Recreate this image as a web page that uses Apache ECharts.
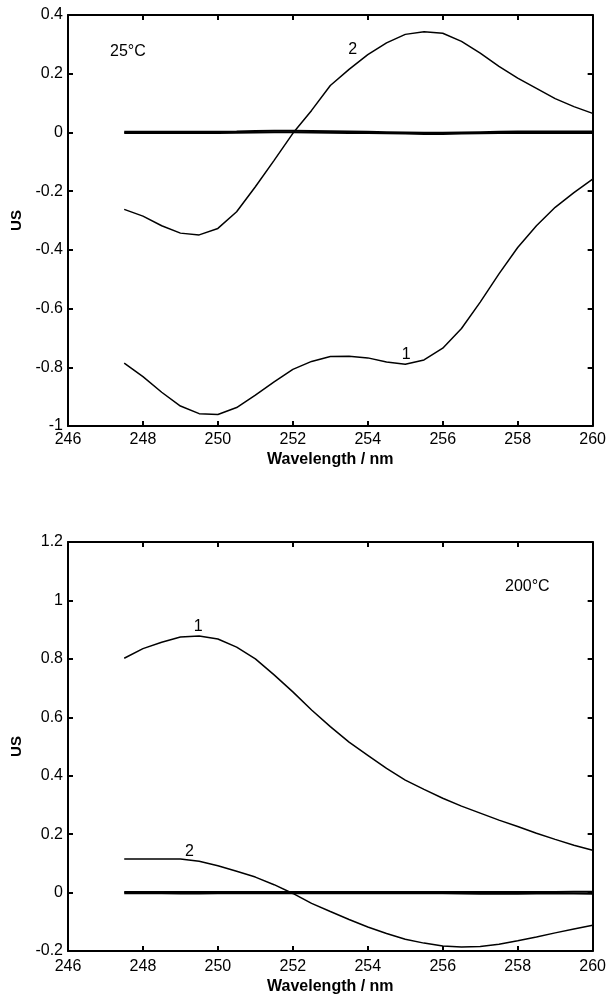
<!DOCTYPE html>
<html>
<head>
<meta charset="utf-8">
<script src="https://cdn.jsdelivr.net/npm/echarts@6/dist/echarts.min.js"></script>
<style>
  html, body { margin: 0; padding: 0; background: #fff; }
  #chart { width: 609px; height: 996px; }
</style>
</head>
<body>
<div id="chart"></div>
<script>
// wavelengths (nm), shared by every curve
const wavelength = [247.5, 248, 248.5, 249, 249.5, 250, 250.5, 251, 251.5, 252, 252.5, 253, 253.5,
                    254, 254.5, 255, 255.5, 256, 256.5, 257, 257.5, 258, 258.5, 259, 259.5, 260];

// 25°C panel
const top1 = [-0.786, -0.832, -0.885, -0.932, -0.958, -0.961, -0.937, -0.895, -0.850, -0.807, -0.780, -0.763, -0.762,
              -0.768, -0.782, -0.790, -0.775, -0.735, -0.668, -0.578, -0.482, -0.392, -0.318, -0.255, -0.205, -0.159];
const top2 = [-0.262, -0.285, -0.318, -0.343, -0.349, -0.327, -0.270, -0.185, -0.095, -0.003, 0.075, 0.160, 0.215,
              0.265, 0.305, 0.334, 0.343, 0.338, 0.310, 0.270, 0.225, 0.185, 0.150, 0.115, 0.088, 0.065];
const top3 = [0.002, 0.002, 0.002, 0.002, 0.002, 0.002, 0.003, 0.005, 0.006, 0.006, 0.005, 0.004, 0.003,
              0.002, 0.001, 0.000, -0.001, -0.001, 0.000, 0.001, 0.002, 0.003, 0.003, 0.003, 0.003, 0.003];
const top4 = [-0.002, -0.002, -0.002, -0.002, -0.002, -0.002, -0.001, 0.000, 0.001, 0.001, 0.000, -0.001, -0.002,
              -0.002, -0.003, -0.004, -0.005, -0.005, -0.004, -0.003, -0.002, -0.002, -0.002, -0.002, -0.002, -0.002];

// 200°C panel
const bot1 = [0.802, 0.835, 0.857, 0.875, 0.878, 0.868, 0.840, 0.800, 0.745, 0.687, 0.625, 0.568, 0.515,
              0.470, 0.425, 0.385, 0.353, 0.323, 0.296, 0.272, 0.248, 0.226, 0.203, 0.182, 0.162, 0.145];
const bot2 = [0.115, 0.115, 0.115, 0.115, 0.107, 0.092, 0.073, 0.053, 0.027, -0.003, -0.037, -0.065, -0.092,
              -0.118, -0.140, -0.160, -0.173, -0.183, -0.186, -0.185, -0.177, -0.165, -0.152, -0.138, -0.125, -0.112];
const bot3 = [0.002, 0.002, 0.002, 0.002, 0.002, 0.002, 0.002, 0.002, 0.002, 0.002, 0.002, 0.002, 0.002,
              0.002, 0.002, 0.002, 0.002, 0.002, 0.002, 0.002, 0.002, 0.002, 0.002, 0.002, 0.003, 0.003];
const bot4 = [-0.002, -0.002, -0.002, -0.003, -0.003, -0.002, -0.002, -0.002, -0.002, -0.002, -0.002, -0.002, -0.002,
              -0.002, -0.002, -0.002, -0.002, -0.002, -0.003, -0.004, -0.004, -0.004, -0.003, -0.002, -0.003, -0.004];

const xTicks = { min: 246, max: 260, interval: 2 };
const topRange = { min: -1, max: 0.4, interval: 0.2 };
const botRange = { min: -0.2, max: 1.2, interval: 0.2 };

// curve number labels: [text, wavelength, value]
const topMarks = [['1', 255, -0.790], ['2', 254, 0.265]];
const botMarks = [['1', 249.5, 0.878], ['2', 249, 0.115]];

const FONT = 'Liberation Sans, Arial, sans-serif';

function pairs(ys) {
    return wavelength.map((x, i) => [x, ys[i]]);
}

function xAxes(grid, margin, gap) {
    return [{
        type: 'value', gridIndex: grid, position: 'bottom',
        min: xTicks.min, max: xTicks.max, interval: xTicks.interval,
        name: 'Wavelength / nm', nameLocation: 'middle', nameGap: gap,
        nameTextStyle: { fontFamily: FONT, fontSize: 16, fontWeight: 'bold', color: '#000' },
        axisLine: { onZero: false, lineStyle: { color: '#000', width: 2 } },
        axisTick: { inside: true, length: 5, lineStyle: { color: '#000', width: 2 } },
        axisLabel: { fontFamily: FONT, fontSize: 16, color: '#000', margin: margin },
        splitLine: { show: false }
    }, {
        type: 'value', gridIndex: grid, position: 'top',
        min: xTicks.min, max: xTicks.max, interval: xTicks.interval,
        axisLine: { onZero: false, lineStyle: { color: '#000', width: 2 } },
        axisTick: { inside: true, length: 5, lineStyle: { color: '#000', width: 2 } },
        axisLabel: { show: false },
        splitLine: { show: false }
    }];
}

function yAxes(grid, r) {
    return [{
        type: 'value', gridIndex: grid, position: 'left',
        min: r.min, max: r.max, interval: r.interval,
        name: 'US', nameLocation: 'middle', nameGap: 43,
        nameTextStyle: { fontFamily: FONT, fontSize: 15, fontWeight: 'bold', color: '#000' },
        axisLine: { onZero: false, lineStyle: { color: '#000', width: 2 } },
        axisTick: { inside: true, length: 5, lineStyle: { color: '#000', width: 2 } },
        axisLabel: { fontFamily: FONT, fontSize: 16, color: '#000', margin: 5 },
        splitLine: { show: false }
    }, {
        type: 'value', gridIndex: grid, position: 'right',
        min: r.min, max: r.max, interval: r.interval,
        axisLine: { onZero: false, lineStyle: { color: '#000', width: 2 } },
        axisTick: { inside: true, length: 5, lineStyle: { color: '#000', width: 2 } },
        axisLabel: { show: false },
        splitLine: { show: false }
    }];
}

function line(ys, xi, yi, width, mark, offset) {
    let s = {
        type: 'line', xAxisIndex: xi, yAxisIndex: yi,
        data: pairs(ys), symbol: 'none', silent: true,
        lineStyle: { color: '#000', width: width }
    };
    if (mark) {
        s.markPoint = {
            symbol: 'circle', symbolSize: 0, silent: true,
            label: {
                show: true, position: 'inside', offset: offset,
                fontFamily: FONT, fontSize: 16, color: '#000',
                formatter: p => p.name
            },
            data: [{ name: mark[0], coord: [mark[1], mark[2]] }]
        };
    }
    return s;
}

const chart = echarts.init(document.getElementById('chart'), null, { renderer: 'canvas' });

chart.setOption({
    animation: false,
    backgroundColor: '#fff',
    grid: [
        { left: 68, top: 15, width: 525, height: 411 },
        { left: 68, top: 542, width: 525, height: 410 }
    ],
    xAxis: [...xAxes(0, 6, 26), ...xAxes(1, 8, 28)],
    yAxis: [...yAxes(0, topRange), ...yAxes(1, botRange)],
    graphic: [
        { type: 'text', left: 110, top: 44, style: { text: '25°C', font: '16px ' + FONT, fill: '#000' } },
        { type: 'text', left: 505, top: 579, style: { text: '200°C', font: '16px ' + FONT, fill: '#000' } }
    ],
    series: [
        line(top1, 0, 0, 1.5, topMarks[0], [1, -10]),
        line(top2, 0, 0, 1.5, topMarks[1], [-15, -5]),
        line(top3, 0, 0, 2),
        line(top4, 0, 0, 2),
        line(bot1, 2, 2, 1.5, botMarks[0], [-1, -9]),
        line(bot2, 2, 2, 1.5, botMarks[1], [9, -7]),
        line(bot3, 2, 2, 2),
        line(bot4, 2, 2, 2)
    ]
});
</script>
</body>
</html>
